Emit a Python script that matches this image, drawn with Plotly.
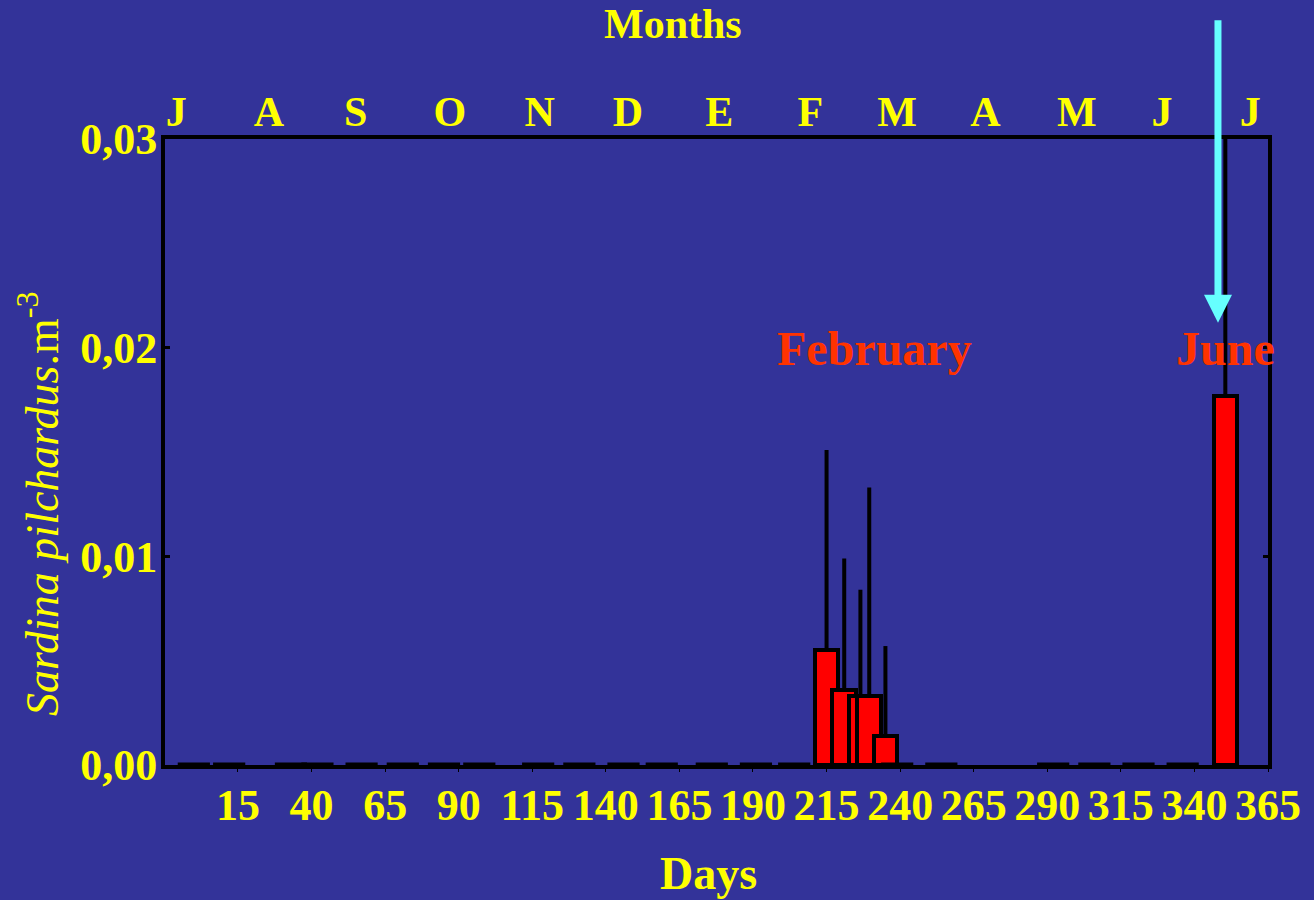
import plotly.graph_objects as go

# ---- data ----
bar_days = [215, 221, 226.5, 229.5, 235, 350.5]
bar_values = [0.0055, 0.0036, 0.0033, 0.0033, 0.0014, 0.0177]
bar_err_top = [0.0151, 0.0099, 0.0084, 0.0133, 0.0057, 0.0400]
zero_days = [0, 12, 33, 42, 57, 71, 85, 97, 117, 131, 146, 159, 176, 191, 204,
             239, 254, 292, 306, 321, 336]
zero_values = [0.0] * len(zero_days)
day_ticks = [15, 40, 65, 90, 115, 140, 165, 190, 215, 240, 265, 290, 315, 340, 365]
y_ticks = [0.0, 0.01, 0.02, 0.03]
y_ticktext = ["0,00", "0,01", "0,02", "0,03"]
month_pos = [-6, 25.5, 55, 87, 117.5, 147.5, 178.5, 209.5, 239, 269, 300, 329, 359]
month_labels = ["J", "A", "S", "O", "N", "D", "E", "F", "M", "A", "M", "J", "J"]

BG = "#333399"
YEL = "#FFFF00"
FONT = "Liberation Serif"

err_plus = [t - v for t, v in zip(bar_err_top, bar_values)]

fig = go.Figure()
fig.add_trace(go.Scatter(
    x=zero_days, y=zero_values, mode="markers", cliponaxis=False,
    marker=dict(symbol="line-ew", size=23, line=dict(width=5, color="black")),
    showlegend=False, hoverinfo="skip"))
fig.add_trace(go.Bar(
    x=bar_days, y=bar_values, width=8,
    marker=dict(color="#FF0000", line=dict(color="black", width=4)),
    error_y=dict(type="data", symmetric=False, array=err_plus,
                 arrayminus=[0] * len(err_plus), color="black",
                 thickness=4, width=0),
    showlegend=False))
# dummy trace for top axis
fig.add_trace(go.Scatter(x=[month_pos[0]], y=[0], xaxis="x2", mode="markers",
                         marker=dict(opacity=0), showlegend=False, hoverinfo="skip"))

tickfont = dict(family=FONT, size=44, color=YEL, weight="bold")
xr = [-9.8, 365]
fig.update_layout(
    width=1314, height=900,
    paper_bgcolor=BG, plot_bgcolor=BG,
    margin=dict(l=165, r=46, t=139, b=135),
    font=dict(family=FONT, color=YEL, size=36),
    xaxis=dict(range=xr, tickvals=day_ticks, ticks="outside", ticklen=3,
               tickwidth=1, tickcolor="black", ticklabelstandoff=-5,
               showline=True, linecolor="black", linewidth=4, mirror=False,
               showgrid=False, zeroline=False, tickfont=tickfont),
    xaxis2=dict(range=xr, overlaying="x", side="top", tickvals=month_pos,
                ticktext=month_labels, ticks="", showline=True,
                ticklabelstandoff=-8,
                linecolor="black", linewidth=4, showgrid=False, zeroline=False,
                tickfont=dict(family=FONT, size=42, color=YEL, weight="bold")),
    yaxis=dict(range=[0, 0.03], tickvals=y_ticks, ticktext=y_ticktext,
               ticks="inside", ticklen=5, tickwidth=3, tickcolor="black",
               ticklabelstandoff=-5,
               showline=True, linecolor="black", linewidth=4, mirror="ticks",
               showgrid=False, zeroline=False, tickfont=tickfont),
    bargap=0,
)

fig.add_annotation(text="<b>Months</b>", xref="paper", yref="paper",
                   x=0.4607, y=1.1837, xanchor="center", yanchor="middle",
                   showarrow=False, font=dict(family=FONT, size=42, color=YEL))
fig.add_annotation(text="<b>Days</b>", xref="paper", yref="paper",
                   x=0.4923, y=-0.173, xanchor="center", yanchor="middle",
                   showarrow=False, font=dict(family=FONT, size=46, color=YEL))
fig.add_annotation(text="<i>Sardina pilchardus</i>.m<sup>-3</sup>",
                   xref="paper", yref="paper", x=-0.115, y=0.417,
                   xanchor="center", yanchor="middle",
                   textangle=-90, showarrow=False,
                   font=dict(family=FONT, size=46, color=YEL))
fig.add_annotation(text="<b>February</b>", x=231.3, y=0.01995, xref="x", yref="y",
                   xanchor="center", yanchor="middle",
                   showarrow=False, font=dict(family=FONT, size=48, color="#FF3300"))
fig.add_annotation(text="<b>June</b>", x=350.7, y=0.01995, xref="x", yref="y",
                   xanchor="center", yanchor="middle",
                   showarrow=False, font=dict(family=FONT, size=48, color="#FF3300"))
fig.add_annotation(text="", x=348, y=0.0212, xref="x", yref="y",
                   ax=0, ay=-304, axref="pixel", ayref="pixel",
                   showarrow=True, arrowhead=2, arrowsize=0.8, arrowwidth=7,
                   arrowcolor="#66FFFF")

fig.write_html("out.html",
               config={"displayModeBar": False},
               post_script="document.body.style.margin='0';"
                           "document.body.style.background='#333399';")
